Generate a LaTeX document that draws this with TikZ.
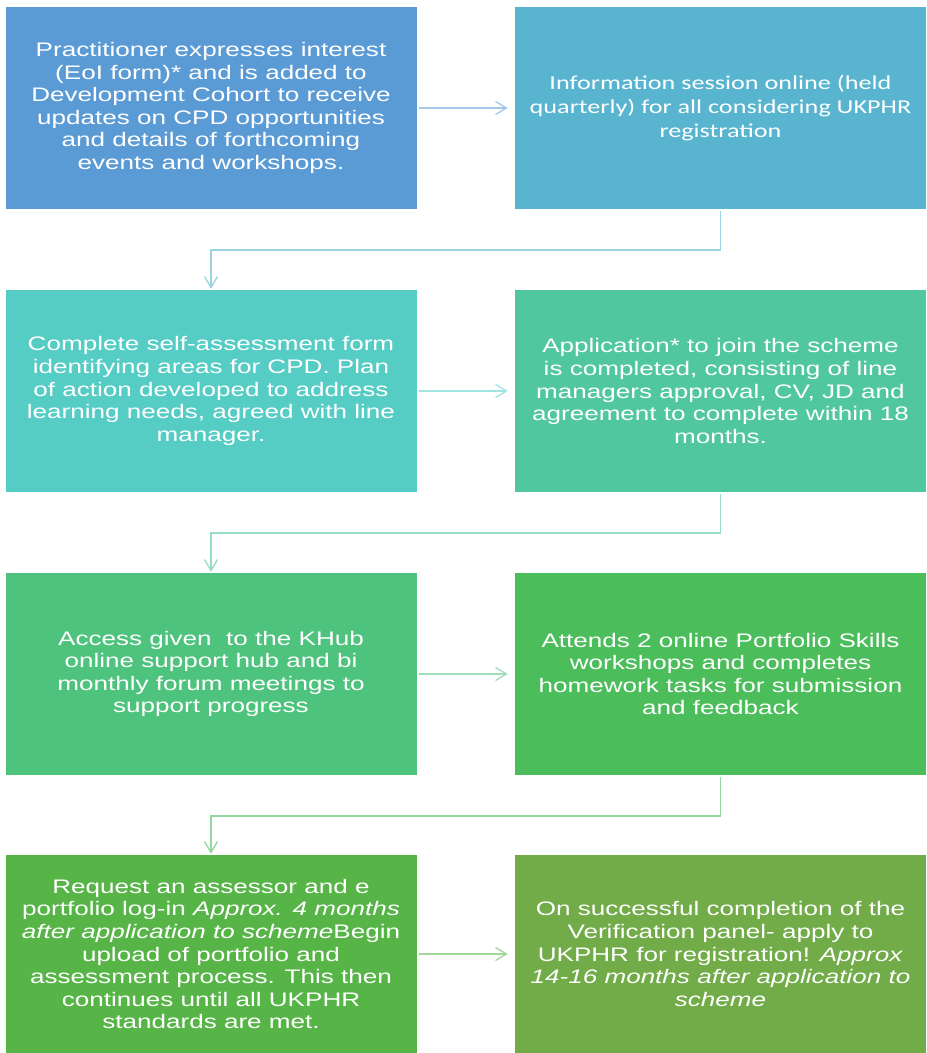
\documentclass[tikz,border=0pt]{standalone}
\usepackage{fontspec}
\setmainfont{Liberation Sans}[FakeStretch=1.33]
\newfontfamily\calibrifont{Carlito}[FakeStretch=1.33]
\usetikzlibrary{arrows.meta}
\definecolor{cA}{HTML}{5B9BD5}
\definecolor{cB}{HTML}{59B5CF}
\definecolor{cC}{HTML}{55CDC5}
\definecolor{cD}{HTML}{50C79F}
\definecolor{cE}{HTML}{4EC37E}
\definecolor{cF}{HTML}{4BBD5B}
\definecolor{cG}{HTML}{57B548}
\definecolor{cH}{HTML}{71AC48}
\tikzset{
  stepbox/.style={rectangle, inner sep=0pt, minimum width=411pt, minimum height=202pt,
    text=white, align=center, font=\fontsize{19.6}{22.6}\selectfont},
  conn/.style={line width=1.3pt, -{Straight Barb[length=11pt,width=13pt,line width=1.3pt]}},
}
\begin{document}
\begin{tikzpicture}[x=1pt,y=-1pt]
\useasboundingbox (0,0) rectangle (927,1053);
\node[stepbox, fill=cA] (b1) at (211,108) {Practitioner expresses interest\\(EoI form)* and is added to\\Development Cohort to receive\\updates on CPD opportunities\\and details of forthcoming\\events and workshops.};
\node[stepbox, fill=cB, font=\calibrifont\fontsize{19.7}{24}\selectfont] (b2) at (720.5,108) {Information session online (held\\quarterly) for all considering UKPHR\\registration};
\node[stepbox, fill=cC] (b3) at (211,391) {Complete self-assessment form\\identifying areas for CPD. Plan\\of action developed to address\\learning needs, agreed with line\\manager.};
\node[stepbox, fill=cD] (b4) at (720.5,391) {Application* to join the scheme\\is completed, consisting of line\\managers approval, CV, JD and\\agreement to complete within 18\\months.};
\node[stepbox, fill=cE] (b5) at (211,674) {Access given\ \ to the KHub\\online support hub and bi\\monthly forum meetings to\\support progress};
\node[stepbox, fill=cF] (b6) at (720.5,674) {Attends 2 online Portfolio Skills\\workshops and completes\\homework tasks for submission\\and feedback};
\node[stepbox, fill=cG, minimum height=198pt] (b7) at (211,954) {Request an assessor and e\\portfolio log-in \textit{Approx. 4 months}\\\textit{after application to scheme}Begin\\upload of portfolio and\\assessment process. This then\\continues until all UKPHR\\standards are met.};
\node[stepbox, fill=cH, minimum height=198pt] (b8) at (720.5,954) {On successful completion of the\\Verification panel- apply to\\UKPHR for registration! \textit{Approx}\\\textit{14-16 months after application to}\\\textit{scheme}};
% horizontal connectors
\draw[conn, cA!55!white, shorten <=2pt, shorten >=7pt] (b1.east) -- (b2.west);
\draw[conn, cC!55!white, shorten <=2pt, shorten >=7pt] (b3.east) -- (b4.west);
\draw[conn, cE!55!white, shorten <=2pt, shorten >=7pt] (b5.east) -- (b6.west);
\draw[conn, cG!55!white, shorten <=2pt, shorten >=7pt] (b7.east) -- (b8.west);
% elbow connectors
\coordinate (k1) at (720.5,250);
\coordinate (k2) at (720.5,533);
\coordinate (k3) at (720.5,816);
\draw[conn, cB!60!white, shorten <=2pt, shorten >=1pt] (b2.south) -- (k1) -| (b3.north);
\draw[conn, cD!60!white, shorten <=2pt, shorten >=1pt] (b4.south) -- (k2) -| (b5.north);
\draw[conn, cF!60!white, shorten <=2pt, shorten >=1pt] (b6.south) -- (k3) -| (b7.north);
\end{tikzpicture}
\end{document}
